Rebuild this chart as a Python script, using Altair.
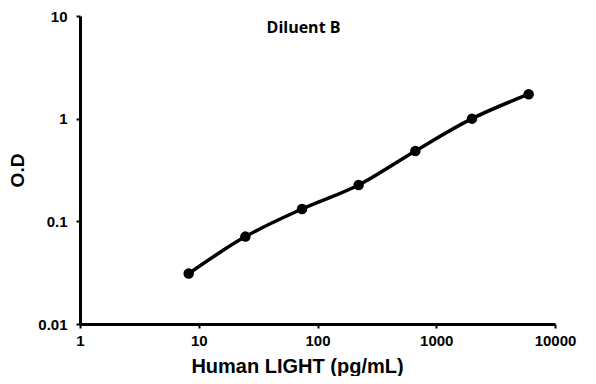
import altair as alt
import pandas as pd

conc = [8.23, 24.7, 74.1, 222, 667, 2000, 6000]
od = [0.031, 0.071, 0.132, 0.226, 0.485, 1.0, 1.73]

x_ticks = [1, 10, 100, 1000, 10000]
y_ticks = [0.01, 0.1, 1, 10]

df = pd.DataFrame({"conc": conc, "od": od})

font = "Liberation Sans"

xs = alt.Scale(type="log", domain=[1, 10000])
ys = alt.Scale(type="log", domain=[0.01, 10])

xax = alt.Axis(values=x_ticks, format="~g", title="Human LIGHT (pg/mL)", grid=False,
               domainColor="black", domainWidth=3, tickColor="black", tickWidth=2, tickSize=4,
               labelFont=font, labelFontWeight="bold", labelFontSize=15, labelColor="black",
               labelPadding=5, labelFlush=False, labelOverlap=False,
               titleFont=font, titleFontWeight="bold", titleFontSize=20, titleColor="black",
               titlePadding=8, titleX=217, titleAlign="center")
yax = alt.Axis(values=y_ticks, format="~g", title="O.D", grid=False,
               domainColor="black", domainWidth=3, tickColor="black", tickWidth=2, tickSize=4,
               labelFont=font, labelFontWeight="bold", labelFontSize=15, labelColor="black",
               labelPadding=9, labelFlush=False, labelOverlap=False,
               titleFont=font, titleFontWeight="bold", titleFontSize=19, titleColor="black",
               titlePadding=10)

base = alt.Chart(df).encode(
    x=alt.X("conc:Q", scale=xs, axis=xax),
    y=alt.Y("od:Q", scale=ys, axis=yax),
)

line = base.mark_line(color="black", strokeWidth=3.5, interpolate="monotone")
pts = base.mark_point(filled=True, color="black", size=110, opacity=1)

chart = alt.layer(line, pts).properties(
    width=475, height=308,
    padding={"left": 72, "top": 8, "right": 33, "bottom": 52},
    autosize=alt.AutoSizeParams(type="none"),
    title=alt.TitleParams("Diluent B", font="Open Sans", fontWeight="bold", fontSize=16,
                          color="black", anchor="middle", dx=-14, dy=31),
).configure_view(stroke=None)

chart.save("out.html", embed_options={"renderer": "svg", "actions": False})
